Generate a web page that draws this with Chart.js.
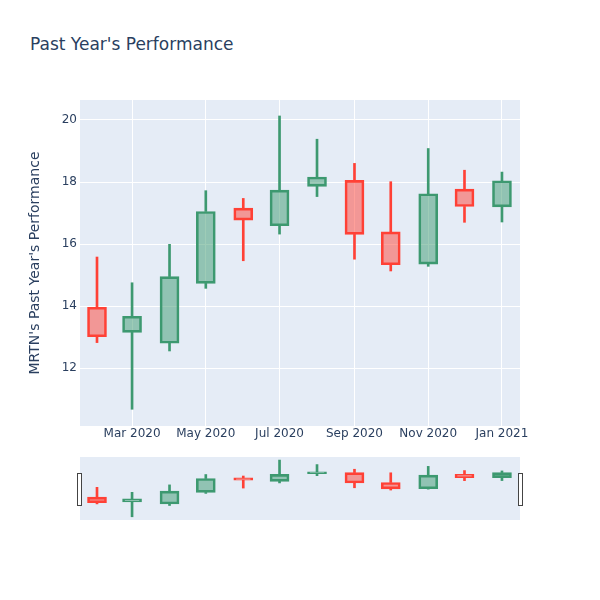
<!DOCTYPE html>
<html><head><meta charset="utf-8">
<script src="https://cdn.jsdelivr.net/npm/chart.js@4"></script>
<style>
html,body{margin:0;padding:0;background:#fff;width:600px;height:600px;overflow:hidden;}
#title{position:absolute;left:30px;top:33px;font-family:"DejaVu Sans",verdana,arial,sans-serif;font-size:17px;color:#2a3f5f;line-height:23px;white-space:nowrap;}
#main{position:absolute;left:0;top:0;width:600px;height:460px;}
#slider{position:absolute;left:0;top:457px;width:600px;height:63px;}
.handle{position:absolute;top:473px;width:3px;height:31px;background:#fff;border:1px solid #444;}
</style></head><body>
<div id="title">Past Year's Performance</div>
<div id="main"><canvas id="c1"></canvas></div>
<div id="slider"><canvas id="c2"></canvas></div>
<div class="handle" style="left:77px"></div>
<div class="handle" style="left:518px"></div>
<script>
// ---- data ----
const dates  = ['2020-02-01','2020-03-01','2020-04-01','2020-05-01','2020-06-01','2020-07-01','2020-08-01','2020-09-01','2020-10-01','2020-11-01','2020-12-01','2021-01-01'];
const openV  = [13.96,13.15,12.80,14.73,17.16,16.59,17.86,18.05,16.39,15.35,17.77,17.20];
const highV  = [15.58,14.75,15.99,17.72,17.47,20.13,19.38,18.60,18.01,19.08,18.38,18.32];
const lowV   = [12.82,10.67,12.55,14.57,15.46,16.32,17.53,15.51,15.13,15.28,16.70,16.71];
const closeV = [13.01,13.67,14.95,17.05,16.77,17.74,18.16,16.31,15.33,17.62,17.21,18.04];
const tickDates  = ['2020-03-01','2020-05-01','2020-07-01','2020-09-01','2020-11-01','2021-01-01'];
const tickLabels = ['Mar 2020','May 2020','Jul 2020','Sep 2020','Nov 2020','Jan 2021'];
const yTicks = [12,14,16,18,20];
const xRange = ['2020-01-17T22:30:00Z','2021-01-15T22:00:00Z'];
const yRange = [10.13,20.645];

// ---- helpers ----
const DAY0 = Date.parse('2020-01-01T00:00:00Z');
const toDay = s => (Date.parse(s.length===10 ? s+'T00:00:00Z' : s) - DAY0)/86400000;
const UP = '#3D9970', DOWN = '#FF4136';
const UPF = 'rgba(61,153,112,0.5)', DOWNF = 'rgba(255,65,54,0.5)';
const isUp = i => closeV[i] >= openV[i];
const FONT = '"DejaVu Sans", verdana, arial, sans-serif';
Chart.defaults.font.family = FONT;
Chart.defaults.color = '#2a3f5f';

function datasets(bodyW){
  const xs = dates.map(toDay);
  return [
    { data: xs.map((x,i)=>({x, y:[openV[i], closeV[i]]})), barThickness: bodyW, grouped:false,
      backgroundColor: ctx => isUp(ctx.dataIndex)?UPF:DOWNF,
      borderColor: ctx => isUp(ctx.dataIndex)?UP:DOWN,
      borderWidth: 2, borderSkipped: false },
    { data: xs.map((x,i)=>({x, y:[Math.max(openV[i],closeV[i]), highV[i]]})), barThickness: 2, grouped:false,
      backgroundColor: ctx => isUp(ctx.dataIndex)?UP:DOWN, borderWidth: 0 },
    { data: xs.map((x,i)=>({x, y:[lowV[i], Math.min(openV[i],closeV[i])]})), barThickness: 2, grouped:false,
      backgroundColor: ctx => isUp(ctx.dataIndex)?UP:DOWN, borderWidth: 0 }
  ];
}
const bgPlugin = { id:'bg', beforeDraw(chart){ const a=chart.chartArea, c=chart.ctx; c.save(); c.fillStyle='#E5ECF6'; c.fillRect(a.left,a.top,a.right-a.left,a.bottom-a.top); c.restore(); } };

new Chart(document.getElementById('c1'), {
  type:'bar',
  data:{ datasets: datasets(19) },
  plugins:[bgPlugin],
  options:{
    responsive:true, maintainAspectRatio:false, animation:false, devicePixelRatio:1,
    layout:{ padding:{ left:0, right:80, top:100, bottom:0 } },
    plugins:{ legend:{display:false}, tooltip:{enabled:false}, title:{display:false} },
    scales:{
      x:{ type:'linear', min:toDay(xRange[0]), max:toDay(xRange[1]), offset:false,
          afterBuildTicks: s => { s.ticks = tickDates.map(d=>({value:toDay(d)})); },
          afterFit: s => { s.height = 34; },
          ticks:{ callback:(v,i)=>tickLabels[i], autoSkip:false, maxRotation:0, padding:1, font:{size:12}, color:'#2a3f5f' },
          grid:{ color:'#ffffff', lineWidth:1, drawTicks:false, offset:false }, border:{display:false} },
      y:{ min:yRange[0], max:yRange[1],
          afterBuildTicks: s => { s.ticks = yTicks.map(v=>({value:v})); },
          afterFit: s => { s.width = 80; },
          ticks:{ padding:3, font:{size:12}, color:'#2a3f5f' },
          grid:{ color:'#ffffff', lineWidth:1, drawTicks:false }, border:{display:false},
          title:{ display:true, text:"MRTN's Past Year's Performance", font:{size:14}, color:'#2a3f5f', padding:{top:27,bottom:0} } }
    }
  }
});

new Chart(document.getElementById('c2'), {
  type:'bar',
  data:{ datasets: datasets(19) },
  plugins:[bgPlugin],
  options:{
    responsive:true, maintainAspectRatio:false, animation:false, devicePixelRatio:1,
    layout:{ padding:{ left:80, right:80, top:0, bottom:0 } },
    plugins:{ legend:{display:false}, tooltip:{enabled:false} },
    scales:{
      x:{ type:'linear', display:false, min:toDay(xRange[0]), max:toDay(xRange[1]), offset:false },
      y:{ display:false, min:yRange[0], max:yRange[1] }
    }
  }
});
</script>
</body></html>
